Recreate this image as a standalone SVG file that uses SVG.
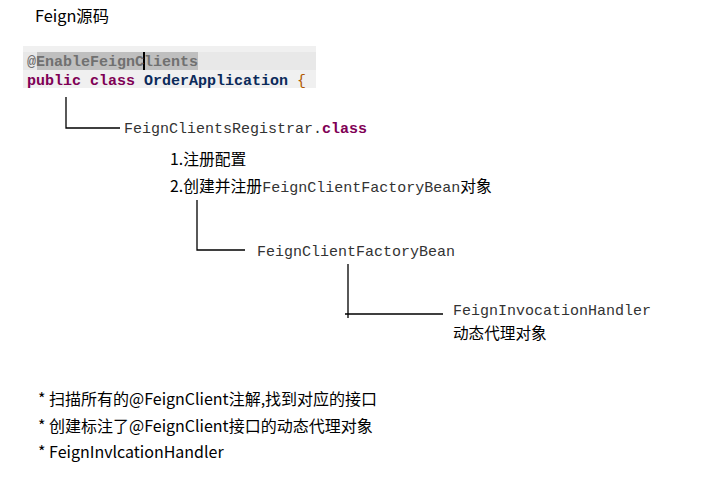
<svg xmlns="http://www.w3.org/2000/svg" width="706" height="482" viewBox="0 0 706 482">
<style>
.sans{font-family:"Microsoft YaHei","Noto Sans CJK SC","Liberation Sans",sans-serif;fill:#000}
.mono{font-family:"Liberation Mono","DejaVu Sans Mono",monospace;fill:#333}
.code{font-family:"Liberation Mono","DejaVu Sans Mono",monospace;font-weight:bold;font-size:15px}
.ln{stroke:#000;stroke-width:1.3;fill:none}
</style>
<rect width="706" height="482" fill="#fff"/>
<g id="title"><text class="sans" x="35" y="22" font-size="16.3">Feign源码</text></g>
<g id="code">
<rect x="23" y="46" width="293" height="42" fill="#f0f0f0"/>
<rect x="23" y="52" width="293" height="18" fill="#e8e8e8"/>
<rect x="37" y="52" width="161" height="18" fill="#bfbfbf"/>
<rect x="143" y="52" width="2" height="18" fill="#000"/>
<text class="code" x="27" y="66" fill="#707070">@EnableFeignClients</text>
<text class="code" x="27" y="85"><tspan fill="#7f0055">public</tspan> <tspan fill="#7f0055">class</tspan> <tspan fill="#0b2a5a">OrderApplication</tspan> <tspan fill="#b05a00" font-weight="normal">{</tspan></text>
</g>
<g id="connectors">
<path class="ln" d="M66 97V128H120"/>
<path class="ln" d="M197 200V250H245"/>
<path class="ln" d="M348 264V318M345 314H443"/>
</g>
<g id="registrar"><text class="mono" x="124" y="133" font-size="15">FeignClientsRegistrar.<tspan fill="#7f0055" font-weight="bold">class</tspan></text></g>
<g id="steps">
<text class="sans" x="170" y="165" font-size="15.8">1.注册配置</text>
<text class="sans" x="170" y="192" font-size="15.8">2.创建并注册<tspan class="mono" fill="#000" font-size="15">FeignClientFactoryBean</tspan>对象</text>
</g>
<g id="factorybean"><text class="mono" x="257" y="256" font-size="15">FeignClientFactoryBean</text></g>
<g id="handler">
<text class="mono" x="453" y="315" font-size="15">FeignInvocationHandler</text>
<text class="sans" x="453" y="339" font-size="15.6">动态代理对象</text>
</g>
<g id="notes">
<text class="sans" x="38" y="405" font-size="16">* 扫描所有的@FeignClient注解,找到对应的接口</text>
<text class="sans" x="38" y="432" font-size="16">* 创建标注了@FeignClient接口的动态代理对象</text>
<text class="sans" x="38" y="458" font-size="16">* FeignInvlcationHandler</text>
</g>
</svg>
